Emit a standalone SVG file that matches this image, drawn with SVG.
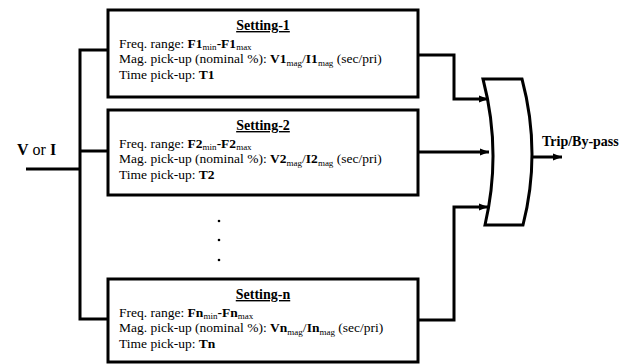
<svg xmlns="http://www.w3.org/2000/svg" width="632" height="364" viewBox="0 0 632 364">
<style>
.box{fill:#fff;stroke:#000;stroke-width:3}
.ln{fill:none;stroke:#000;stroke-width:3;stroke-linejoin:miter}
.t{font-family:"Liberation Serif","Times New Roman",serif;font-size:13.5px;fill:#000}
.h{font-family:"Liberation Serif","Times New Roman",serif;font-size:14px;font-weight:bold;text-decoration:underline;fill:#000}
.b{font-weight:bold}
.s{font-size:9px}
</style>
<defs>
<marker id="arr" markerWidth="10" markerHeight="8" refX="9" refY="4" orient="auto" markerUnits="userSpaceOnUse">
<path d="M0,0.5 L9,4 L0,7.5 Z" fill="#000"/>
</marker>
</defs>
<g id="connectors">
<polyline class="ln" points="26,169 80,169"/>
<polyline class="ln" points="108,50 80,50 80,319 108,319"/>
<polyline class="ln" points="80,151 108,151"/>
<polyline class="ln" points="418,55 454,55 454,99 488,99" marker-end="url(#arr)"/>
<polyline class="ln" points="418,152 489,152" marker-end="url(#arr)"/>
<polyline class="ln" points="418,320 454,320 454,207 488,207" marker-end="url(#arr)"/>
<polyline class="ln" points="532,157 562,157" marker-end="url(#arr)"/>
</g>
<g id="input">
<text x="17" y="155" class="t" style="font-size:16px"><tspan class="b">V</tspan> or <tspan class="b">I</tspan></text>
</g>
<g id="setting-1">
<rect class="box" x="108" y="10" width="310" height="87"/>
<text x="263" y="30" class="h" text-anchor="middle">Setting-1</text>
<text x="119" y="47.5" class="t">Freq. range: <tspan class="b">F1</tspan><tspan class="s" dy="2.5">min</tspan><tspan class="b" dy="-2.5">-F1</tspan><tspan class="s" dy="2.5">max</tspan></text>
<text x="119" y="63" class="t">Mag. pick-up (nominal %): <tspan class="b">V1</tspan><tspan class="s" dy="2.5">mag</tspan><tspan dy="-2.5">/</tspan><tspan class="b">I1</tspan><tspan class="s" dy="2.5">mag</tspan><tspan dy="-2.5"> (sec/pri)</tspan></text>
<text x="119" y="78.5" class="t">Time pick-up: <tspan class="b">T1</tspan></text>
</g>
<g id="setting-2">
<rect class="box" x="108" y="110" width="310" height="85"/>
<text x="263" y="130" class="h" text-anchor="middle">Setting-2</text>
<text x="119" y="147.5" class="t">Freq. range: <tspan class="b">F2</tspan><tspan class="s" dy="2.5">min</tspan><tspan class="b" dy="-2.5">-F2</tspan><tspan class="s" dy="2.5">max</tspan></text>
<text x="119" y="163" class="t">Mag. pick-up (nominal %): <tspan class="b">V2</tspan><tspan class="s" dy="2.5">mag</tspan><tspan dy="-2.5">/</tspan><tspan class="b">I2</tspan><tspan class="s" dy="2.5">mag</tspan><tspan dy="-2.5"> (sec/pri)</tspan></text>
<text x="119" y="178.5" class="t">Time pick-up: <tspan class="b">T2</tspan></text>
</g>
<g id="dots">
<circle cx="219" cy="221" r="1.3" fill="#000"/>
<circle cx="219" cy="240" r="1.3" fill="#000"/>
<circle cx="219" cy="260" r="1.3" fill="#000"/>
</g>
<g id="setting-n">
<rect class="box" x="108" y="279" width="310" height="83"/>
<text x="263" y="299" class="h" text-anchor="middle">Setting-n</text>
<text x="119" y="316.5" class="t">Freq. range: <tspan class="b">Fn</tspan><tspan class="s" dy="2.5">min</tspan><tspan class="b" dy="-2.5">-Fn</tspan><tspan class="s" dy="2.5">max</tspan></text>
<text x="119" y="332" class="t">Mag. pick-up (nominal %): <tspan class="b">Vn</tspan><tspan class="s" dy="2.5">mag</tspan><tspan dy="-2.5">/</tspan><tspan class="b">In</tspan><tspan class="s" dy="2.5">mag</tspan><tspan dy="-2.5"> (sec/pri)</tspan></text>
<text x="119" y="347.5" class="t">Time pick-up: <tspan class="b">Tn</tspan></text>
</g>
<g id="or-gate">
<path class="box" d="M483,79 L522,79 Q541.5,152 523,225 L485,225 Q502,152 483,79 Z"/>
</g>
<g id="output">
<text x="542" y="146" class="t b" style="font-size:14px">Trip/By-pass</text>
</g>
</svg>
